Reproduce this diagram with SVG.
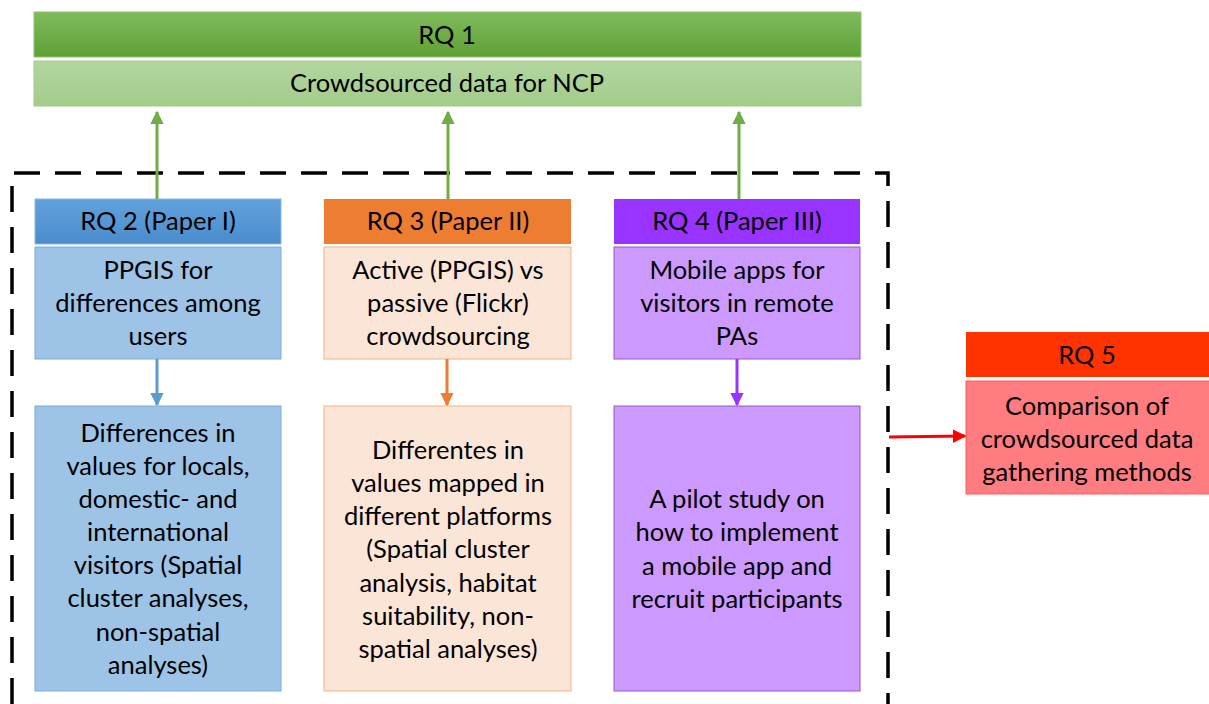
<svg xmlns="http://www.w3.org/2000/svg" width="1209" height="704" viewBox="0 0 1209 704">
<defs>
<linearGradient id="gG" x1="0" y1="0" x2="0" y2="1"><stop offset="0" stop-color="#7fbb5c"/><stop offset="1" stop-color="#5fa035"/></linearGradient>
<linearGradient id="gL" x1="0" y1="0" x2="0" y2="1"><stop offset="0" stop-color="#b3d6a0"/><stop offset="1" stop-color="#a3cc8b"/></linearGradient>
<linearGradient id="gB" x1="0" y1="0" x2="0" y2="1"><stop offset="0" stop-color="#62a2dc"/><stop offset="1" stop-color="#4a8ccc"/></linearGradient>
<marker id="aG" viewBox="0 0 10 10" refX="9" refY="5" markerWidth="4.5" markerHeight="4.5" orient="auto"><path d="M0,0L10,5L0,10z" fill="#70ad47"/></marker>
<marker id="aB" viewBox="0 0 10 10" refX="9" refY="5" markerWidth="4.5" markerHeight="4.5" orient="auto"><path d="M0,0L10,5L0,10z" fill="#5b9bd5"/></marker>
<marker id="aO" viewBox="0 0 10 10" refX="9" refY="5" markerWidth="4.5" markerHeight="4.5" orient="auto"><path d="M0,0L10,5L0,10z" fill="#ed7d31"/></marker>
<marker id="aP" viewBox="0 0 10 10" refX="9" refY="5" markerWidth="4.5" markerHeight="4.5" orient="auto"><path d="M0,0L10,5L0,10z" fill="#9933ff"/></marker>
<marker id="aR" viewBox="0 0 10 10" refX="9" refY="5" markerWidth="4.5" markerHeight="4.5" orient="auto"><path d="M0,0L10,5L0,10z" fill="#ff0000"/></marker>
</defs>
<style>
text{font-family:Lato,"Open Sans","Liberation Sans",sans-serif;font-size:25.5px;fill:#000;text-anchor:middle}
.c{stroke-width:3;fill:none}
</style>
<rect x="0" y="0" width="1209" height="704" fill="#fff"/>
<g id="frame"><path d="M12,704V173H888V704" fill="none" stroke="#000" stroke-width="3.5" stroke-dasharray="26,15"/></g>
<g id="rq1">
<rect x="34" y="12" width="827" height="45" fill="url(#gG)" stroke="#8fc26f" stroke-width="1"/>
<text x="447" y="44">RQ 1</text>
</g>
<g id="ncp">
<rect x="34" y="61" width="827" height="45" fill="url(#gL)" stroke="#a0c98a" stroke-width="1"/>
<text x="447" y="92">Crowdsourced data for NCP</text>
</g>
<g id="rq2">
<rect x="35" y="199" width="246" height="45" fill="url(#gB)" stroke="#8ab8e4" stroke-width="1"/>
<text x="158" y="230">RQ 2 (Paper I)</text>
<rect x="35" y="247" width="246" height="112" fill="#9dc3e6" stroke="#7aaee0" stroke-width="1"/>
<text x="158" y="279">PPGIS for</text>
<text x="158" y="312">differences among</text>
<text x="158" y="345">users</text>
</g>
<g id="rq2b">
<rect x="35" y="406" width="246" height="285" fill="#9dc3e6" stroke="#7aaee0" stroke-width="1"/>
<text x="158" y="442">Differences in</text>
<text x="158" y="475">values for locals,</text>
<text x="158" y="508">domestic- and</text>
<text x="158" y="541">international</text>
<text x="158" y="574">visitors (Spatial</text>
<text x="158" y="607">cluster analyses,</text>
<text x="158" y="641">non-spatial</text>
<text x="158" y="674">analyses)</text>
</g>
<g id="rq3">
<rect x="324" y="199" width="247" height="45" fill="#ed7d31"/>
<text x="448" y="230">RQ 3 (Paper II)</text>
<rect x="324" y="247" width="247" height="112" fill="#fbe5d6" stroke="#f4b183" stroke-width="1"/>
<text x="448" y="279">Active (PPGIS) vs</text>
<text x="448" y="312">passive (Flickr)</text>
<text x="448" y="345">crowdsourcing</text>
</g>
<g id="rq3b">
<rect x="324" y="406" width="247" height="285" fill="#fbe5d6" stroke="#f4b183" stroke-width="1"/>
<text x="448" y="459">Differentes in</text>
<text x="448" y="492">values mapped in</text>
<text x="448" y="525">different platforms</text>
<text x="448" y="558">(Spatial cluster</text>
<text x="448" y="592">analysis, habitat</text>
<text x="448" y="625">suitability, non-</text>
<text x="448" y="658">spatial analyses)</text>
</g>
<g id="rq4">
<rect x="614" y="199" width="246" height="45" fill="#9933ff"/>
<text x="737" y="230">RQ 4 (Paper III)</text>
<rect x="614" y="247" width="246" height="112" fill="#cc99ff" stroke="#9955cc" stroke-width="1"/>
<text x="737" y="279">Mobile apps for</text>
<text x="737" y="312">visitors in remote</text>
<text x="737" y="345">PAs</text>
</g>
<g id="rq4b">
<rect x="614" y="406" width="246" height="285" fill="#cc99ff" stroke="#9955cc" stroke-width="1"/>
<text x="737" y="508">A pilot study on</text>
<text x="737" y="541">how to implement</text>
<text x="737" y="575">a mobile app and</text>
<text x="737" y="608">recruit participants</text>
</g>
<g id="rq5">
<rect x="966" y="332" width="245" height="45" fill="#ff3300"/>
<text x="1087" y="364">RQ 5</text>
<rect x="966" y="381" width="245" height="113" fill="#ff7c80" stroke="#ff5b5b" stroke-width="1"/>
<text x="1087" y="415">Comparison of</text>
<text x="1087" y="448">crowdsourced data</text>
<text x="1087" y="481">gathering methods</text>
</g>
<g id="connectors">
<line class="c" x1="157" y1="199" x2="157" y2="112" stroke="#70ad47" marker-end="url(#aG)"/>
<line class="c" x1="448" y1="199" x2="448" y2="112" stroke="#70ad47" marker-end="url(#aG)"/>
<line class="c" x1="739" y1="199" x2="739" y2="112" stroke="#70ad47" marker-end="url(#aG)"/>
<line class="c" x1="157" y1="359" x2="157" y2="405" stroke="#5b9bd5" marker-end="url(#aB)"/>
<line class="c" x1="447" y1="359" x2="447" y2="405" stroke="#ed7d31" marker-end="url(#aO)"/>
<line class="c" x1="737" y1="359" x2="737" y2="405" stroke="#9933ff" marker-end="url(#aP)"/>
<line class="c" x1="889" y1="437" x2="965" y2="436" stroke="#ff0000" marker-end="url(#aR)"/>
</g>
</svg>
